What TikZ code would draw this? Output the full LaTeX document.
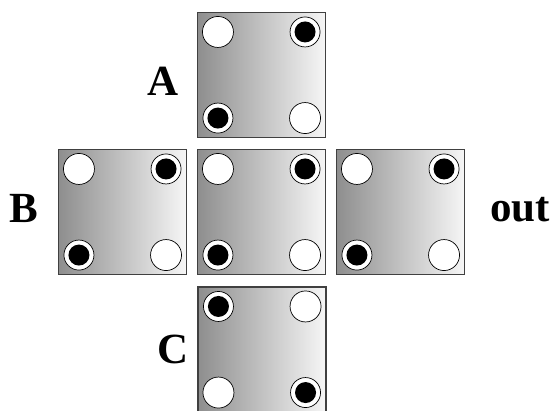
\documentclass[tikz,border=0pt]{standalone}
\usepackage{fontspec}
\setmainfont{Liberation Serif}
\usepackage{tikz}
\usetikzlibrary{positioning}
\definecolor{PlateDark}{HTML}{8E8E8E}
\definecolor{PlateLight}{HTML}{F6F6F6}
\definecolor{PlateEdge}{HTML}{404040}

\tikzset{
    plate/.style={draw=PlateEdge, line width=1.1pt, minimum width=128pt, minimum height=125pt,
        inner sep=0pt, left color=PlateDark, right color=PlateLight},
    openhole/.style={circle, draw=black, line width=0.7pt, fill=white, minimum size=31pt, inner sep=0pt},
    dothole/.style={circle, draw=black, line width=0.7pt, fill=white, minimum size=30pt, inner sep=0pt,
        path picture={\fill[black] (path picture bounding box.center) circle (10.5pt);}},
    portlabel/.style={font=\fontsize{43}{43}\selectfont\bfseries}
}

\begin{document}
\begin{tikzpicture}[x=1pt,y=-1pt]
        \useasboundingbox (0,0) rectangle (551,410);
        
        % the five plates
        \node[plate] (A) at (261.5,75) {};
        \node[plate] (B) at (122.5,212) {};
        \node[plate] (M) at (261.5,212) {};
        \node[plate] (O) at (400.5,212) {};
        \node[plate] (C) at (262,349.5) {};
        
        % holes: open top left / bottom right, dotted top right / bottom left
        \foreach \p in {A,B,M,O} {
            \node[openhole] (\p tl) at ([shift={(21,20)}]\p.north west) {};
            \node[dothole]  (\p tr) at ([shift={(-21,20)}]\p.north east) {};
            \node[dothole]  (\p bl) at ([shift={(21,-20)}]\p.south west) {};
            \node[openhole] (\p br) at ([shift={(-21,-20)}]\p.south east) {};
        }
        \node[dothole]  (Ctl) at ([shift={(21,20)}]C.north west) {};
        \node[openhole] (Ctr) at ([shift={(-21,20)}]C.north east) {};
        \node[openhole] (Cbl) at ([shift={(21,-20)}]C.south west) {};
        \node[dothole]  (Cbr) at ([shift={(-21,-20)}]C.south east) {};
        
        % labels
        \node[portlabel] (lA) at (163,81.5) {A};
        \node[portlabel] (lB) at (24,208) {B};
        \node[portlabel] (lO) at (520,210) {out};
        \node[portlabel] (lC) at (173.5,349.5) {C};
        
    \end{tikzpicture}
\end{document}
